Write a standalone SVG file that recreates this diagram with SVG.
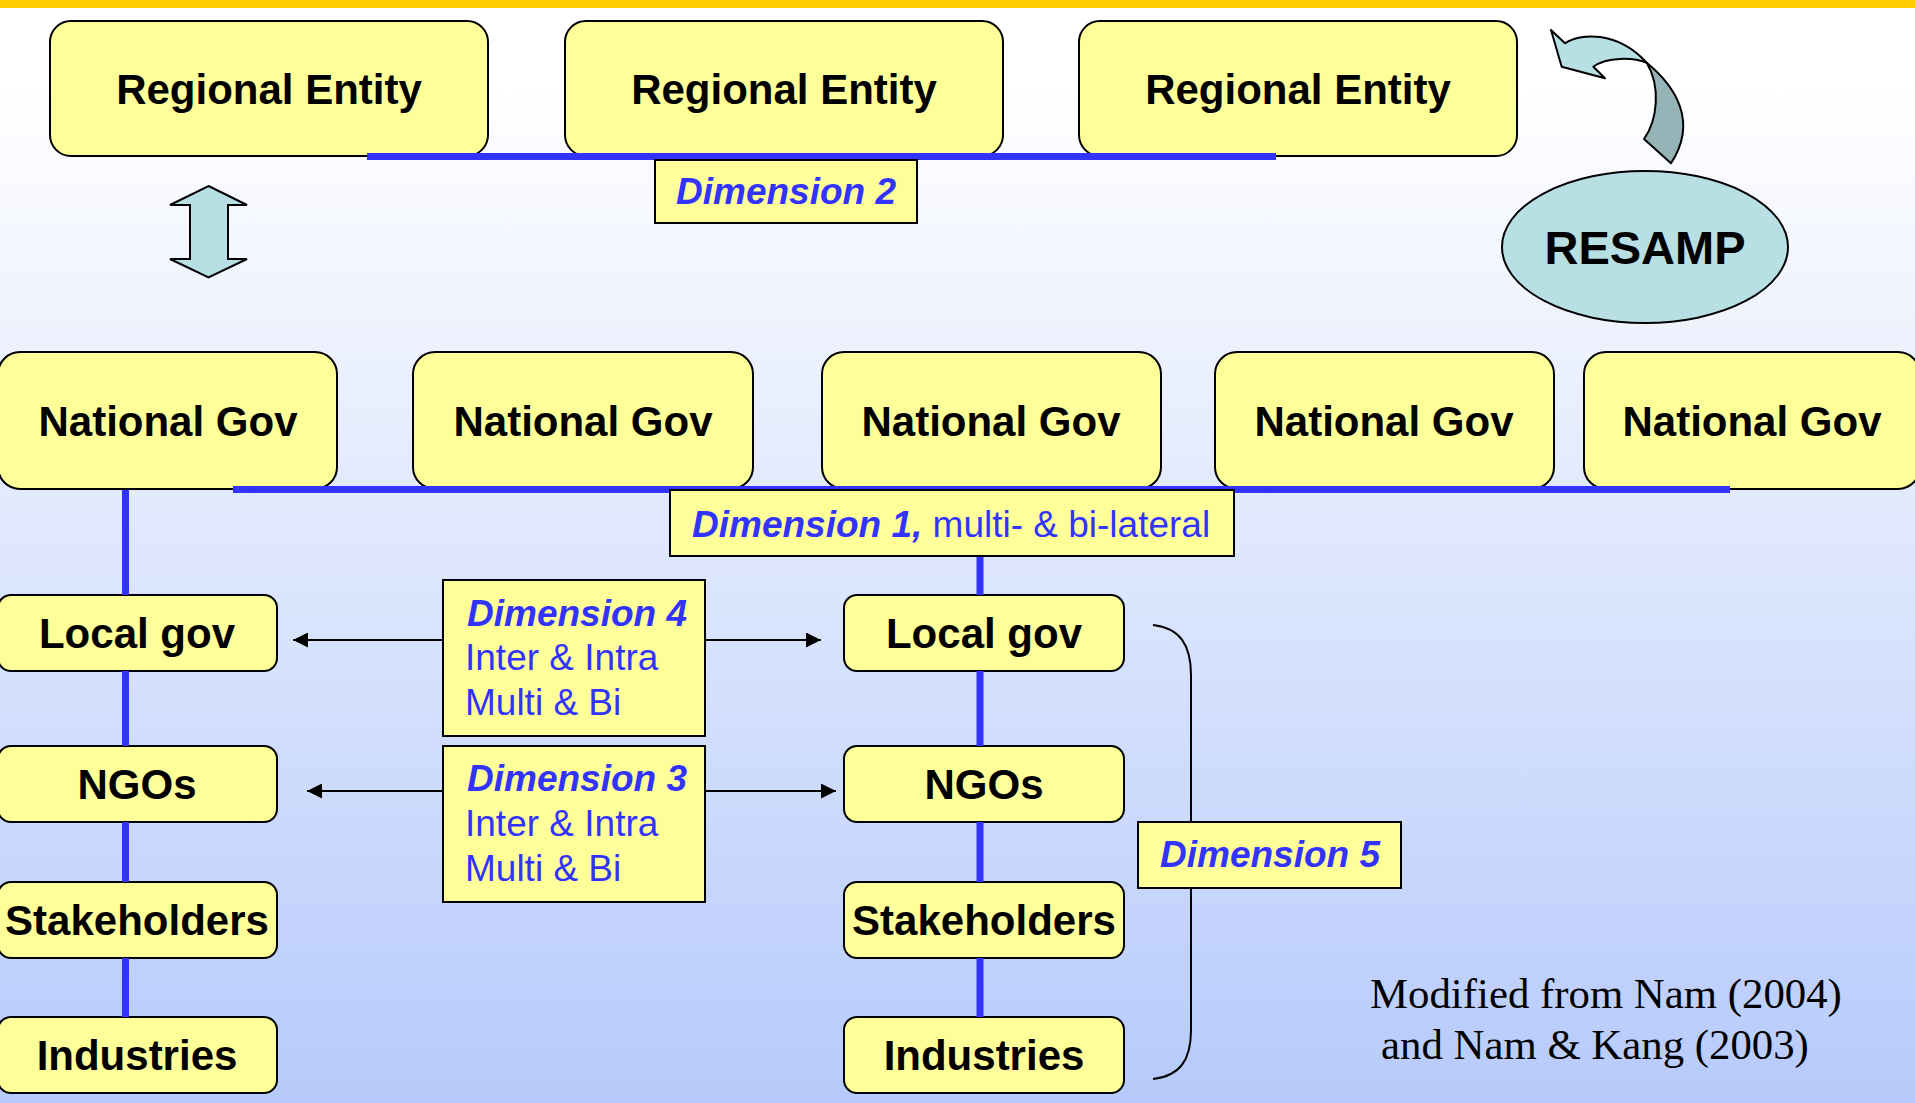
<svg xmlns="http://www.w3.org/2000/svg" width="1915" height="1103" viewBox="0 0 1915 1103">
<defs>
<linearGradient id="bg" x1="0" y1="0" x2="0" y2="1">
<stop offset="0" stop-color="#ffffff"/>
<stop offset="0.08" stop-color="#ffffff"/>
<stop offset="1" stop-color="#b6cafb"/>
</linearGradient>
<marker id="ah" viewBox="0 0 15 15" refX="15" refY="7.5" markerWidth="15" markerHeight="15" markerUnits="userSpaceOnUse" orient="auto">
<path d="M0,0 L15,7.5 L0,15 Z" fill="#000"/>
</marker>
<style>
.box{fill:#ffff99;stroke:#000;stroke-width:2}
.lbl{fill:#ffff99;stroke:#000;stroke-width:2}
.nt{font-family:"Liberation Sans",Arial,sans-serif;font-weight:bold;font-size:42px;fill:#000;text-anchor:middle}
.dt{font-family:"Liberation Sans",Arial,sans-serif;font-weight:bold;font-style:italic;font-size:37px;fill:#3333ff}
.rt{font-family:"Liberation Sans",Arial,sans-serif;font-size:37px;fill:#3333ff}
.bl{stroke:#3333ff;stroke-width:7;fill:none}
.ar{stroke:#000;stroke-width:2;fill:none;marker-end:url(#ah)}
.cy{fill:#b8e0e4;stroke:#000;stroke-width:2}
</style>
</defs>
<rect x="0" y="0" width="1915" height="1103" fill="url(#bg)"/>
<rect x="0" y="0" width="1915" height="8" fill="#ffcc00"/>

<g id="regional1"><rect class="box" x="50" y="21" width="438" height="135" rx="21"/><text class="nt" x="269" y="104">Regional Entity</text></g>
<g id="regional2"><rect class="box" x="565" y="21" width="438" height="135" rx="21"/><text class="nt" x="784" y="104">Regional Entity</text></g>
<g id="regional3"><rect class="box" x="1079" y="21" width="438" height="135" rx="21"/><text class="nt" x="1298" y="104">Regional Entity</text></g>

<g id="updown-arrow"><path class="cy" d="M208.5,186 L247,205 L228,205 L228,259 L247,259 L208.5,277.5 L170,259 L190,259 L190,205 L170,205 Z"/></g>

<g id="curved-arrow">
<path d="M1551,30 L1565,43.3 C1580,33.3 1616.7,30 1646.7,62.7 C1633.3,57.3 1606.7,56.7 1593.3,66.7 L1605,78.3 L1561.7,66.7 Z" fill="#b8e0e4" stroke="#000" stroke-width="2" stroke-linejoin="round"/>
<path d="M1646.7,62.7 C1676,86.7 1698,122 1671,163.3 L1644,139 C1657.5,120 1661,86.7 1646.7,62.7 Z" fill="#96b3b8" stroke="#000" stroke-width="2" stroke-linejoin="round"/>
</g>

<g id="resamp"><ellipse class="cy" cx="1645" cy="247" rx="143" ry="76"/><text class="nt" x="1645" y="264" style="font-size:47px">RESAMP</text></g>

<g id="national1"><rect class="box" x="-2" y="352" width="339" height="137" rx="22"/><text class="nt" x="168" y="436">National Gov</text></g>
<g id="national2"><rect class="box" x="413" y="352" width="340" height="137" rx="22"/><text class="nt" x="583" y="436">National Gov</text></g>
<g id="national3"><rect class="box" x="822" y="352" width="339" height="137" rx="22"/><text class="nt" x="991" y="436">National Gov</text></g>
<g id="national4"><rect class="box" x="1215" y="352" width="339" height="137" rx="22"/><text class="nt" x="1384" y="436">National Gov</text></g>
<g id="national5"><rect class="box" x="1584" y="352" width="336" height="137" rx="22"/><text class="nt" x="1752" y="436">National Gov</text></g>

<g id="local-left"><rect class="box" x="-2" y="595" width="279" height="76" rx="13"/><text class="nt" x="137" y="648">Local gov</text></g>
<g id="ngos-left"><rect class="box" x="-2" y="746" width="279" height="76" rx="13"/><text class="nt" x="137" y="799">NGOs</text></g>
<g id="stake-left"><rect class="box" x="-2" y="882" width="279" height="76" rx="13"/><text class="nt" x="137" y="935">Stakeholders</text></g>
<g id="ind-left"><rect class="box" x="-2" y="1017" width="279" height="76" rx="13"/><text class="nt" x="137" y="1070">Industries</text></g>

<g id="local-right"><rect class="box" x="844" y="595" width="280" height="76" rx="13"/><text class="nt" x="984" y="648">Local gov</text></g>
<g id="ngos-right"><rect class="box" x="844" y="746" width="280" height="76" rx="13"/><text class="nt" x="984" y="799">NGOs</text></g>
<g id="stake-right"><rect class="box" x="844" y="882" width="280" height="76" rx="13"/><text class="nt" x="984" y="935">Stakeholders</text></g>
<g id="ind-right"><rect class="box" x="844" y="1017" width="280" height="76" rx="13"/><text class="nt" x="984" y="1070">Industries</text></g>

<g id="connectors">
<line class="bl" x1="367" y1="156.5" x2="1276" y2="156.5"/>
<line class="bl" x1="233" y1="489.5" x2="1730" y2="489.5"/>
<line class="bl" x1="125.5" y1="490" x2="125.5" y2="595"/>
<line class="bl" x1="125.5" y1="671" x2="125.5" y2="746"/>
<line class="bl" x1="125.5" y1="822" x2="125.5" y2="882"/>
<line class="bl" x1="125.5" y1="958" x2="125.5" y2="1017"/>
<line class="bl" x1="980" y1="556" x2="980" y2="595"/>
<line class="bl" x1="980" y1="671" x2="980" y2="746"/>
<line class="bl" x1="980" y1="822" x2="980" y2="882"/>
<line class="bl" x1="980" y1="958" x2="980" y2="1017"/>
<line class="ar" x1="443" y1="640" x2="293" y2="640"/>
<line class="ar" x1="705" y1="640" x2="821" y2="640"/>
<line class="ar" x1="443" y1="791" x2="307" y2="791"/>
<line class="ar" x1="705" y1="791" x2="836" y2="791"/>
<path d="M1153,625 C1180,628 1191,645 1191,675 L1191,1030 C1191,1060 1180,1076 1153,1079" fill="none" stroke="#000" stroke-width="2"/>
</g>

<g id="dim2"><rect class="lbl" x="655" y="160" width="262" height="63"/><text class="dt" x="786" y="204" text-anchor="middle">Dimension 2</text></g>
<g id="dim1"><rect class="lbl" x="670" y="490" width="564" height="66"/><text x="692" y="537"><tspan class="dt">Dimension 1,</tspan><tspan class="rt"> multi- &amp; bi-lateral</tspan></text></g>
<g id="dim4"><rect class="lbl" x="443" y="580" width="262" height="156"/><text class="dt" x="467" y="626">Dimension 4</text><text class="rt" x="465" y="670">Inter &amp; Intra</text><text class="rt" x="465" y="715">Multi &amp; Bi</text></g>
<g id="dim3"><rect class="lbl" x="443" y="746" width="262" height="156"/><text class="dt" x="467" y="791">Dimension 3</text><text class="rt" x="465" y="836">Inter &amp; Intra</text><text class="rt" x="465" y="881">Multi &amp; Bi</text></g>
<g id="dim5"><rect class="lbl" x="1138" y="822" width="263" height="66"/><text class="dt" x="1270" y="867" text-anchor="middle">Dimension 5</text></g>

<g id="citation" font-family="'Liberation Serif','Times New Roman',serif" font-size="42.8" fill="#000">
<text x="1370" y="1008">Modified from Nam (2004)</text>
<text x="1381" y="1059">and Nam &amp; Kang (2003)</text>
</g>
</svg>
